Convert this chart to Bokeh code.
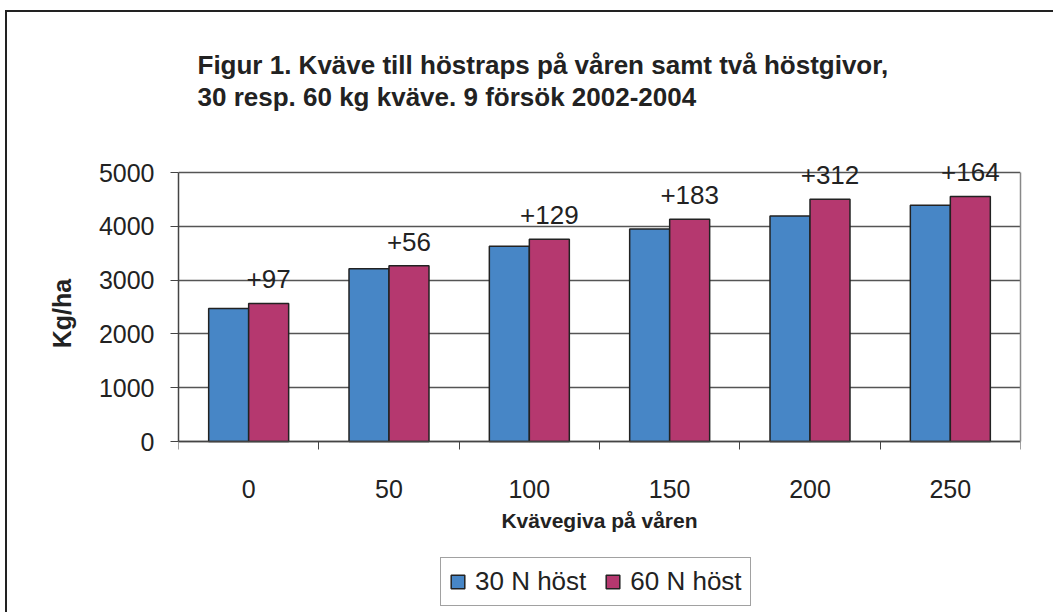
from bokeh.plotting import figure
from bokeh.models import (ColumnDataSource, FixedTicker, Range1d, Label, LabelSet,
                          Legend, LegendItem, LinearAxis)
from bokeh.core.properties import value
from bokeh.transform import dodge
from bokeh.embed import file_html
from bokeh.resources import INLINE

# ---- data ----
categories = ["0", "50", "100", "150", "200", "250"]
host30 = [2470, 3210, 3630, 3950, 4190, 4390]
host60 = [2567, 3266, 3759, 4133, 4502, 4554]
diff_labels = ["+97", "+56", "+129", "+183", "+312", "+164"]
y_ticks = [0, 1000, 2000, 3000, 4000, 5000]
title_lines = ["Figur 1. Kväve till höstraps på våren samt två höstgivor,",
               "30 resp. 60 kg kväve. 9 försök 2002-2004"]
series_names = ["30 N höst", "60 N höst"]
colors = ["#4786C6", "#B5386F"]

n = len(categories)
centers = [i + 0.5 for i in range(n)]
bounds = list(range(n + 1))
y_top = y_ticks[-1]

# ---- layout geometry (pixels) ----
W, H = 1048, 602
left, right = 171, 35            # frame spans 842 px
plot_h_px = 269                  # pixels for 0..5000
above_px, below_px = 429, 173    # frame extends above/below the value 0
ppu = plot_h_px / y_top          # pixels per unit
y_min = -below_px / ppu
y_max = above_px / ppu
fx = n / (W - left - right)      # data units per pixel (x)

src = ColumnDataSource(dict(x=centers, a=host30, b=host60, lab=diff_labels))

p = figure(width=W, height=H, output_backend="svg", toolbar_location=None,
           x_range=Range1d(0, n), y_range=Range1d(y_min, y_max),
           min_border_left=left, min_border_right=right, min_border_top=0,
           min_border_bottom=0)
p.styles = {"border-left": "2px solid #222", "border-top": "2px solid #222",
            "margin-left": "5px", "margin-top": "10px"}
p.title.visible = False
p.background_fill_color = "white"
p.border_fill_color = "white"
p.outline_line_color = None

bw = 0.285
r1 = p.vbar(x=dodge("x", -bw / 2, range=p.x_range), top="a", width=bw, source=src,
            fill_color=colors[0], line_color="#222222", line_width=1.5)
r2 = p.vbar(x=dodge("x", bw / 2, range=p.x_range), top="b", width=bw, source=src,
            fill_color=colors[1], line_color="#222222", line_width=1.5)

labels = LabelSet(x=dodge("x", bw / 2, range=p.x_range), y="b", text="lab", source=src,
                  text_align="center", text_baseline="alphabetic", y_offset=15,
                  text_font=value("Liberation Sans"), text_font_size=value("26px"),
                  text_color="#222222")
p.add_layout(labels)

# grid
p.xgrid.visible = False
p.ygrid.ticker = FixedTicker(ticks=y_ticks)
p.ygrid.grid_line_color = "#555555"
p.ygrid.grid_line_width = 1.3

# y axis
ya = p.yaxis[0]
ya.ticker = FixedTicker(ticks=y_ticks)
ya.bounds = (0, y_top)
ya.axis_line_color = "#444444"
ya.axis_line_width = 1.5
ya.major_tick_in = 0
ya.major_tick_out = 8
ya.major_tick_line_color = "#444444"
ya.minor_tick_line_color = None
ya.major_label_text_font = "Liberation Sans"
ya.major_label_text_font_size = "25px"
ya.major_label_text_color = "#222222"
ya.major_label_standoff = 16
ya.axis_label = "Kg/ha"
ya.axis_label_text_font = "Liberation Sans"
ya.axis_label_text_font_style = "bold"
ya.axis_label_text_font_size = "25px"
ya.axis_label_text_color = "#222222"
ya.axis_label_standoff = 20

# right border of the plot area
ra = LinearAxis(ticker=FixedTicker(ticks=[]), bounds=(0, y_top),
                axis_line_color="#888888", axis_line_width=1.5,
                major_tick_line_color=None, minor_tick_line_color=None,
                major_label_text_font_size="0px")
p.add_layout(ra, "right")

# x axis (inside the frame at y = 0)
xa = p.xaxis[0]
xa.fixed_location = 0
xa.ticker = FixedTicker(ticks=centers, minor_ticks=bounds)
xa.major_label_overrides = {c: lab for c, lab in zip(centers, categories)}
xa.axis_line_color = "#444444"
xa.axis_line_width = 1.5
xa.major_tick_line_color = None
xa.major_tick_in = 0
xa.major_tick_out = 0
xa.minor_tick_in = 0
xa.minor_tick_out = 8
xa.minor_tick_line_color = "#444444"
xa.major_label_text_font = "Liberation Sans"
xa.major_label_text_font_size = "25px"
xa.major_label_text_color = "#222222"
xa.major_label_standoff = 30
xa.axis_label = "Kvävegiva på våren"
xa.axis_label_text_font = "Liberation Sans"
xa.axis_label_text_font_style = "bold"
xa.axis_label_text_font_size = "21px"
xa.axis_label_text_color = "#222222"
xa.axis_label_standoff = 8

# title (two lines)
for line, above in zip(title_lines, [377, 345]):
    p.add_layout(Label(x=19 * fx, y=above / ppu, text=line,
                       text_font="Liberation Sans", text_font_style="bold",
                       text_font_size="26px", text_color="#222222",
                       text_baseline="alphabetic", text_align="left"))

legend = Legend(items=[LegendItem(label=series_names[0], renderers=[r1]),
                       LegendItem(label=series_names[1], renderers=[r2])],
                orientation="horizontal", location=(262, 8))
legend.label_text_font = "Liberation Sans"
legend.label_text_font_size = "26px"
legend.label_text_color = "#222222"
legend.glyph_width = 17
legend.glyph_height = 17
legend.label_standoff = 9
legend.spacing = 18
legend.padding = 8
legend.margin = 0
legend.border_line_color = "#444444"
legend.border_line_width = 1.5
legend.background_fill_alpha = 1
p.add_layout(legend)

open("out.html", "w").write(file_html(p, INLINE))
